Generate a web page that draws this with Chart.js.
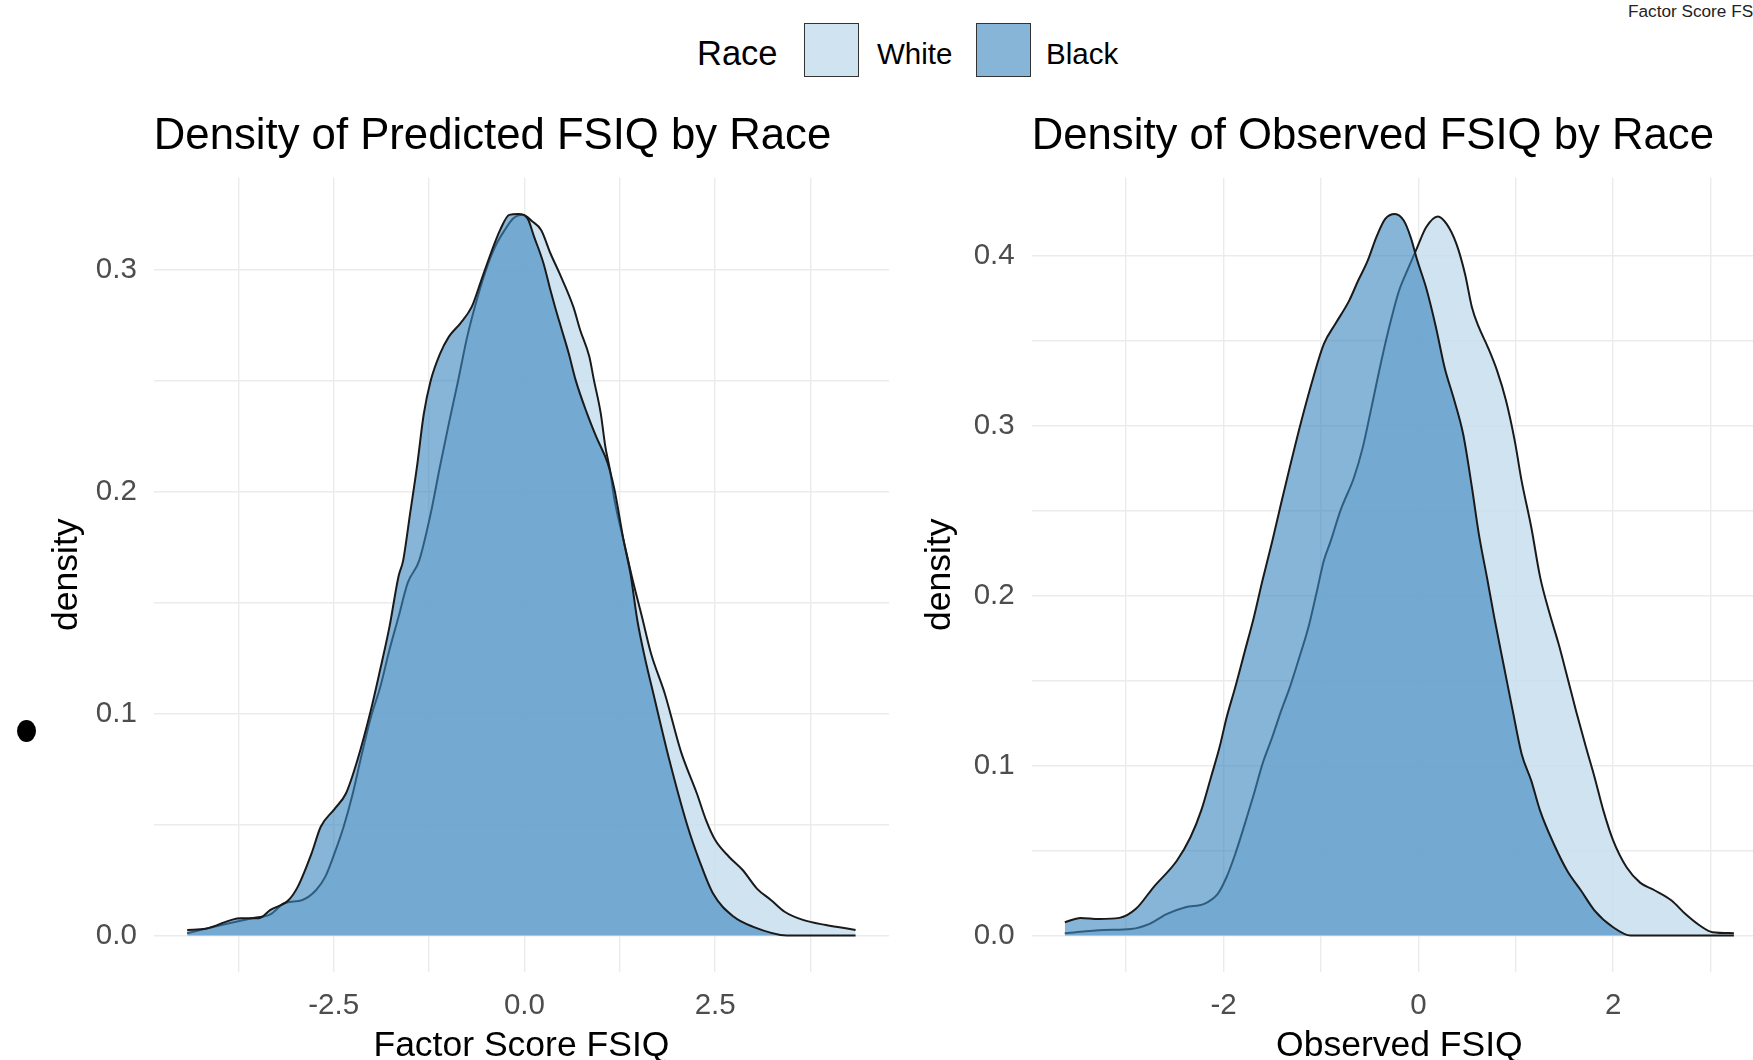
<!DOCTYPE html>
<html>
<head>
<meta charset="utf-8">
<title>Density of FSIQ by Race</title>
<script src="https://cdn.jsdelivr.net/npm/chart.js@4.4.1/dist/chart.umd.min.js"></script>
<style>
    html, body { margin: 0; padding: 0; width: 1753px; height: 1060px; overflow: hidden; background: #fff; }
    body { position: relative; font-family: 'Liberation Sans', Arial, sans-serif; }
    canvas { position: absolute; top: 0; }
    #grafico-predito { left: 0; }
    #grafico-observado { left: 890px; }
    .txt { position: absolute; white-space: nowrap; line-height: 1; color: #000; }
    .chave { position: absolute; box-sizing: border-box; border: 1.5px solid #333; width: 55px; height: 54px; top: 23px; }
    #ponto { position: absolute; left: 17px; top: 720px; width: 19px; height: 22px; border-radius: 50%; background: #000; }
</style>
</head>
<body>
<div id="legenda"></div>
<div class="txt" id="canto" style="left:1628px; top:2.5px; font-size:17.2px; color:#222;">Factor Score FS</div>
<div id="ponto"></div>
<canvas id="grafico-predito" width="900" height="1070"></canvas>
<canvas id="grafico-observado" width="880" height="1070"></canvas>

<script>
// legenda
const RACAS = ['White', 'Black'];
const PREENCHIMENTO = ['rgba(200,222,238,0.85)', 'rgba(60,135,190,0.62)'];
const CONTORNO = '#1a1a1a';

// painel esquerdo: Factor Score FSIQ
const predWhiteX = [-4.42, -3.87, -3.57, -3.33, -3.15, -2.91, -2.73, -2.61, -2.49, -2.37, -2.25, -2.13, -2.01, -1.89, -1.77, -1.65, -1.53, -1.38, -1.23, -1.11, -0.99, -0.87, -0.75, -0.625, -0.505, -0.385, -0.26, -0.145, -0.02, 0.10, 0.22, 0.34, 0.46, 0.64, 0.73, 0.85, 0.91, 1.00, 1.06, 1.12, 1.18, 1.30, 1.42, 1.54, 1.66, 1.84, 2.05, 2.26, 2.38, 2.50, 2.68, 2.86, 3.05, 3.23, 3.41, 3.65, 3.95, 4.34];
const predWhiteY = [0.001, 0.0055, 0.0078, 0.0095, 0.0145, 0.016, 0.0205, 0.0265, 0.037, 0.049, 0.064, 0.082, 0.0987, 0.112, 0.1287, 0.1437, 0.159, 0.169, 0.190, 0.211, 0.231, 0.250, 0.270, 0.2865, 0.300, 0.3105, 0.318, 0.3234, 0.325, 0.322, 0.318, 0.3076, 0.2985, 0.2835, 0.273, 0.261, 0.2505, 0.2354, 0.2204, 0.210, 0.1964, 0.178, 0.160, 0.1437, 0.127, 0.109, 0.083, 0.064, 0.052, 0.043, 0.0355, 0.0295, 0.021, 0.016, 0.0107, 0.007, 0.0047, 0.0025];
const predBlackX = [-4.42, -4.18, -3.72, -3.48, -3.33, -3.09, -2.97, -2.79, -2.67, -2.49, -2.34, -2.19, -2.01, -1.89, -1.77, -1.65, -1.59, -1.50, -1.41, -1.32, -1.23, -1.11, -0.99, -0.84, -0.69, -0.565, -0.44, -0.32, -0.20, -0.08, 0.04, 0.127, 0.25, 0.34, 0.40, 0.49, 0.58, 0.67, 0.82, 0.94, 1.09, 1.18, 1.30, 1.39, 1.48, 1.58, 1.69, 1.90, 2.14, 2.29, 2.47, 2.74, 2.99, 3.44, 4.34];
const predBlackY = [0.0025, 0.003, 0.0078, 0.0078, 0.0115, 0.016, 0.022, 0.037, 0.049, 0.057, 0.064, 0.079, 0.102, 0.120, 0.139, 0.162, 0.169, 0.190, 0.211, 0.235, 0.250, 0.262, 0.270, 0.276, 0.2835, 0.2955, 0.3076, 0.318, 0.3249, 0.3253, 0.3233, 0.315, 0.303, 0.291, 0.2835, 0.273, 0.2625, 0.2505, 0.2354, 0.2249, 0.213, 0.201, 0.178, 0.163, 0.142, 0.125, 0.109, 0.079, 0.049, 0.034, 0.019, 0.0085, 0.004, 0, 0];

// painel direito: Observed FSIQ
const obsWhiteX = [-3.63, -3.23, -2.95, -2.76, -2.58, -2.39, -2.20, -2.06, -1.97, -1.88, -1.78, -1.69, -1.60, -1.50, -1.41, -1.32, -1.22, -1.13, -1.04, -0.97, -0.90, -0.80, -0.66, -0.57, -0.48, -0.38, -0.29, -0.20, -0.10, -0.01, 0.08, 0.20, 0.29, 0.39, 0.48, 0.55, 0.62, 0.71, 0.81, 0.90, 0.99, 1.06, 1.16, 1.25, 1.34, 1.44, 1.53, 1.62, 1.72, 1.81, 1.90, 2.00, 2.14, 2.28, 2.42, 2.60, 2.74, 2.89, 3.02, 3.24];
const obsWhiteY = [0.0014, 0.0033, 0.0039, 0.0069, 0.0128, 0.0167, 0.0186, 0.0245, 0.0343, 0.048, 0.066, 0.083, 0.101, 0.1167, 0.132, 0.146, 0.164, 0.181, 0.203, 0.2206, 0.232, 0.250, 0.2696, 0.2873, 0.311, 0.338, 0.360, 0.379, 0.393, 0.405, 0.4166, 0.423, 0.4186, 0.407, 0.389, 0.3696, 0.358, 0.3466, 0.332, 0.3147, 0.291, 0.2676, 0.240, 0.211, 0.191, 0.1716, 0.152, 0.132, 0.111, 0.093, 0.0735, 0.056, 0.040, 0.031, 0.0268, 0.0206, 0.0128, 0.0059, 0.002, 0.0014];
const obsBlackX = [-3.63, -3.47, -3.28, -3.07, -2.90, -2.72, -2.48, -2.34, -2.23, -2.13, -2.04, -1.97, -1.88, -1.78, -1.69, -1.60, -1.50, -1.41, -1.32, -1.20, -1.08, -0.97, -0.85, -0.71, -0.62, -0.52, -0.43, -0.34, -0.24, -0.15, -0.08, -0.01, 0.08, 0.18, 0.27, 0.36, 0.46, 0.55, 0.62, 0.71, 0.78, 0.88, 0.97, 1.06, 1.16, 1.25, 1.39, 1.53, 1.67, 1.81, 2.00, 2.18, 3.24];
const obsBlackY = [0.0078, 0.0104, 0.0098, 0.0104, 0.0157, 0.0284, 0.044, 0.0578, 0.0735, 0.093, 0.111, 0.128, 0.146, 0.1676, 0.187, 0.209, 0.232, 0.254, 0.2755, 0.303, 0.328, 0.348, 0.360, 0.3735, 0.385, 0.397, 0.411, 0.4216, 0.4245, 0.4206, 0.411, 0.397, 0.381, 0.358, 0.334, 0.3166, 0.295, 0.2637, 0.2366, 0.209, 0.187, 0.158, 0.132, 0.107, 0.091, 0.0735, 0.054, 0.038, 0.0265, 0.0147, 0.0049, 0, 0];

// ticks (major = com texto, minor = so grade)
const predXMajor = [-2.5, 0, 2.5];
const predXMinor = [-3.75, -1.25, 1.25, 3.75];
const predYMajor = [0, 0.1, 0.2, 0.3];
const predYMinor = [0.05, 0.15, 0.25];
const obsXMajor = [-2, 0, 2];
const obsXMinor = [-3, -1, 1, 3];
const obsYMajor = [0, 0.1, 0.2, 0.3, 0.4];
const obsYMinor = [0.05, 0.15, 0.25, 0.35];

Chart.defaults.font.family = "'Liberation Sans', Arial, sans-serif";

function toPoints(xs, ys) {
    let pts = [];
    for (let i = 0; i < xs.length; i++) {
        pts.push({ x: xs[i], y: ys[i] });
    }
    return pts;
}

function isMajor(v, majors) {
    return majors.some(m => Math.abs(m - v) < 1e-9);
}

function montarLegenda() {
    const leg = document.getElementById('legenda');
    let html = '<div class="txt" style="left:697px; top:36px; font-size:34.5px;">Race</div>';
    const chaveX = [804, 976];
    const textoX = [877, 1046];
    for (let i = 0; i < RACAS.length; i++) {
        html += `<div class="chave" style="left:${chaveX[i]}px; background:${PREENCHIMENTO[i]};"></div>`;
        html += `<div class="txt" style="left:${textoX[i]}px; top:38.5px; font-size:29.5px;">${RACAS[i]}</div>`;
    }
    leg.innerHTML = html;
}

function montarPainel(id, cfg) {
    const grade = { color: '#ebebeb', lineWidth: 1.4, drawTicks: false };
    const tickFont = { size: 29.5 };

    new Chart(document.getElementById(id), {
        type: 'line',
        data: {
            datasets: [
                {
                    label: RACAS[0],
                    data: toPoints(cfg.whiteX, cfg.whiteY),
                    backgroundColor: PREENCHIMENTO[0],
                    borderColor: CONTORNO,
                    borderWidth: 2,
                    pointRadius: 0,
                    fill: 'origin',
                    cubicInterpolationMode: 'monotone',
                    order: 2
                },
                {
                    label: RACAS[1],
                    data: toPoints(cfg.blackX, cfg.blackY),
                    backgroundColor: PREENCHIMENTO[1],
                    borderColor: CONTORNO,
                    borderWidth: 2,
                    pointRadius: 0,
                    fill: 'origin',
                    cubicInterpolationMode: 'monotone',
                    order: 1
                }
            ]
        },
        options: {
            responsive: false,
            animation: false,
            devicePixelRatio: 1,
            layout: { padding: { left: 0, right: cfg.padRight, top: 0, bottom: 0 } },
            plugins: {
                legend: { display: false },
                tooltip: { enabled: false },
                title: {
                    display: true,
                    text: cfg.title,
                    align: 'start',
                    fullSize: false,
                    color: '#000',
                    font: { size: 43.7, weight: 'normal' },
                    padding: { top: 110.5, bottom: 14.9 }
                }
            },
            scales: {
                x: {
                    type: 'linear',
                    min: cfg.xMin,
                    max: cfg.xMax,
                    afterBuildTicks: function(axis) {
                        axis.ticks = cfg.xMajor.concat(cfg.xMinor).sort((a, b) => a - b).map(v => ({ value: v }));
                    },
                    afterFit: function(axis) { axis.height = 98.4; },
                    grid: grade,
                    border: { display: false },
                    ticks: {
                        color: '#4d4d4d',
                        font: tickFont,
                        padding: 16.4,
                        autoSkip: false,
                        maxRotation: 0,
                        callback: function(v) { return isMajor(v, cfg.xMajor) ? v.toFixed(cfg.xDecimals) : ''; }
                    },
                    title: {
                        display: true,
                        text: cfg.xTitle,
                        color: '#000',
                        font: { size: 35.5 },
                        padding: { top: 0, bottom: 2.7 }
                    }
                },
                y: {
                    min: cfg.yMin,
                    max: cfg.yMax,
                    afterBuildTicks: function(axis) {
                        axis.ticks = cfg.yMajor.concat(cfg.yMinor).sort((a, b) => a - b).map(v => ({ value: v }));
                    },
                    afterFit: function(axis) { axis.width = cfg.yWidth; },
                    grid: grade,
                    border: { display: false },
                    ticks: {
                        color: '#4d4d4d',
                        font: tickFont,
                        padding: 17,
                        autoSkip: false,
                        callback: function(v) { return isMajor(v, cfg.yMajor) ? v.toFixed(1) : ''; }
                    },
                    title: {
                        display: true,
                        text: 'density',
                        color: '#000',
                        font: { size: 35.5 },
                        padding: { top: cfg.yTitlePad, bottom: 0 }
                    }
                }
            }
        }
    });
}

montarLegenda();

montarPainel('grafico-predito', {
    title: 'Density of Predicted FSIQ by Race',
    xTitle: 'Factor Score FSIQ',
    whiteX: predWhiteX, whiteY: predWhiteY,
    blackX: predBlackX, blackY: predBlackY,
    xMin: -4.858, xMax: 4.778, yMin: -0.0163, yMax: 0.3416,
    xMajor: predXMajor, xMinor: predXMinor, yMajor: predYMajor, yMinor: predYMinor,
    xDecimals: 1,
    yWidth: 153.8, yTitlePad: 46.3, padRight: 11
});

montarPainel('grafico-observado', {
    title: 'Density of Observed FSIQ by Race',
    xTitle: 'Observed FSIQ',
    whiteX: obsWhiteX, whiteY: obsWhiteY,
    blackX: obsBlackX, blackY: obsBlackY,
    xMin: -3.97, xMax: 3.58, yMin: -0.0212, yMax: 0.4457,
    xMajor: obsXMajor, xMinor: obsXMinor, yMajor: obsYMajor, yMinor: obsYMinor,
    xDecimals: 0,
    yWidth: 141.7, yTitlePad: 29.4, padRight: 3
});
</script>
</body>
</html>
